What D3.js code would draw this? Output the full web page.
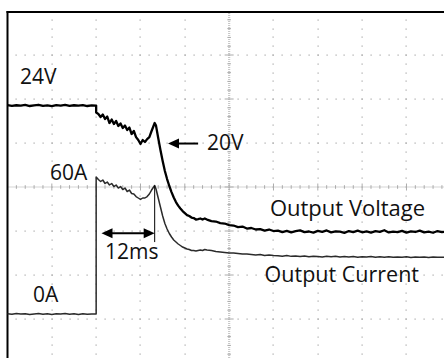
<!DOCTYPE html>
<html>
<head>
<meta charset="utf-8">
<script src="https://cdn.jsdelivr.net/npm/d3@7"></script>
<style>
  html, body { margin: 0; padding: 0; background: #fff; }
  svg { display: block; }
  text { font-family: "Open Sans", "Noto Sans", sans-serif; fill: #111; }
</style>
</head>
<body>
<svg id="scope" width="444" height="358"></svg>
<script>
// Sample times (ms), 10 ms per division
const timeMs = [0,1,2,3,4,5,6,7,8,9,10,11,12,13,14,15,16,17,18,19,20,
  20,20.5,21,21.5,22,22.5,23,23.5,24,24.5,25,25.5,26,26.5,27,27.5,28,28.5,29,29.5,30,30.5,31,31.5,32,32.5,
  33.2,33.5,34,34.5,35,35.5,36,36.5,37,37.5,38,38.5,39,39.5,40,40.5,41,41.5,42,42.5,43,43.5,44,44.5,45,
  46,47,48,49,50,51,52,53,54,55,56,57,58,59,60,
  61,62,63,64,65,66,67,68,69,70,71,72,73,74,75,76,77,78,79,80,
  81,82,83,84,85,86,87,88,89,90,91,92,93,94,95,96,97,98,99,100];

// Output voltage (V)
const outputVoltage = [24.05,23.96,24.03,23.98,24.06,23.95,24.02,24.08,23.97,24.01,23.94,24.04,23.99,24.07,23.96,24.03,23.98,24.05,23.95,24.02,24.0,
  23.26,23.11,22.79,23.05,22.58,22.84,22.16,22.53,22.05,22.37,21.84,22.11,21.63,21.89,21.42,21.68,21.0,21.32,20.68,20.37,19.95,20.37,20.16,20.47,20.68,21.32,
  22.16,21.89,20.58,19.32,18.16,17.11,16.26,15.53,14.89,14.32,13.84,13.47,13.16,12.89,12.68,12.47,12.37,12.21,12.16,12.0,12.05,12.11,12.0,12.11,12.0,
  11.84,11.79,11.63,11.58,11.42,11.37,11.21,11.26,11.05,11.11,10.95,11.0,10.84,10.95,10.79,
  10.84,10.68,10.80,10.64,10.77,10.86,10.67,10.74,10.62,10.81,10.70,10.85,10.65,10.76,10.72,10.60,10.79,10.68,10.83,10.66,
  10.75,10.63,10.78,10.71,10.87,10.64,10.73,10.68,10.81,10.62,10.76,10.69,10.84,10.65,10.72,10.61,10.79,10.67,10.74,10.70];

// Output current (A)
const outputCurrent = [0.1,-0.15,0.2,-0.05,0.15,-0.2,0.05,0.18,-0.1,0.12,-0.18,0.08,-0.05,0.2,-0.12,0.1,-0.2,0.15,-0.08,0.05,0,
  62.27,61.14,60.23,60.91,59.32,60.0,58.64,59.32,57.95,58.64,57.27,57.95,56.59,57.27,55.68,56.36,54.77,54.55,53.41,52.73,52.05,52.73,52.73,53.41,54.55,56.36,
  58.41,56.8,52.73,48.64,44.55,41.14,38.64,36.59,35.0,33.64,32.73,31.82,31.14,30.45,30.0,29.55,29.32,28.86,28.86,28.64,28.86,29.09,28.86,29.32,29.09,
  28.86,28.41,28.18,27.95,27.73,27.73,27.5,27.27,27.27,27.05,26.82,27.05,26.59,26.82,26.59,
  26.5,26.3,26.55,26.2,26.4,26.1,26.35,26.0,26.3,26.15,25.95,26.25,26.05,26.2,25.9,26.15,25.95,26.1,25.85,26.05,
  25.9,26.1,25.8,26.0,25.85,26.05,25.75,25.95,25.85,26.0,25.7,25.9,25.8,25.95,25.7,25.9,25.75,25.85,25.7,25.8];

// Screen extents in channel units (10 x 8 divisions)
const timeSpan = [0, 100];
const voltSpan = [-3.1, 33.95];
const ampSpan = [-22.27, 137.73];
const divisionsX = 10, divisionsY = 8, minorPerDiv = 5;

// Annotations, in channel units
const peakTime = 33.2, peakAmps = 58.41;
const delayMs = 12;
const delayArrowAmps = 36.7, markerEndAmps = 32.7;
const dipVolts = 20, dipArrowTip = 36.2, dipArrowTail = 43.0;

const labels = [
  { text: "24V", t: 2.82, v: 26.26, ch: "V", size: 21 },
  { text: "60A", t: 9.59, v: 60.9, ch: "A", size: 21 },
  { text: "0A", t: 5.75, v: 5.45, ch: "A", size: 21 },
  { text: "20V", t: 45.0, v: 19.32, ch: "V", size: 21 },
  { text: delayMs + "ms", t: 22.0, v: 25.0, ch: "A", size: 21 },
  { text: "Output Voltage", t: 59.2, v: 12.37, ch: "V", size: 22 },
  { text: "Output Current", t: 58.0, v: 14.55, ch: "A", size: 21.5 }
];

const svg = d3.select("#scope");
const plotLeft = 7.5, plotRight = 450.8, plotTop = 11, plotBottom = 363;

const x = d3.scaleLinear().domain(timeSpan).range([plotLeft, plotRight]);
const gx = d3.scaleLinear().domain([0, divisionsX]).range([plotLeft, plotRight]);
const gy = d3.scaleLinear().domain([0, divisionsY]).range([plotTop, plotBottom]);
const yV = d3.scaleLinear().domain(voltSpan).range([plotBottom, plotTop]);
const yA = d3.scaleLinear().domain(ampSpan).range([plotBottom, plotTop]);

// Dotted graticule
const grid = svg.append("g");
const dots = [];
d3.range(1, divisionsX).filter(d => d !== divisionsX / 2).forEach(d => {
  d3.range(1, divisionsY * minorPerDiv).forEach(k => dots.push([gx(d), gy(k / minorPerDiv)]));
});
d3.range(1, divisionsY).filter(d => d !== divisionsY / 2).forEach(d => {
  d3.range(1, divisionsX * minorPerDiv + 1).forEach(k => dots.push([gx(k / minorPerDiv), gy(d)]));
});
grid.selectAll("rect.dot").data(dots).join("rect")
  .attr("class", "dot")
  .attr("x", d => Math.round(d[0]) - 0.5).attr("y", d => Math.round(d[1]) - 0.5)
  .attr("width", 1.2).attr("height", 1.2)
  .attr("fill", "#a6a6a6");

// Centre axes with fine ruling and tick marks
const cx = gx(divisionsX / 2), cy = gy(divisionsY / 2);
grid.append("line").attr("x1", cx).attr("x2", cx).attr("y1", plotTop).attr("y2", 358)
  .attr("stroke", "#c8c8c8").attr("stroke-width", 2.2).attr("stroke-dasharray", "1,1");
grid.append("line").attr("x1", plotLeft).attr("x2", 444).attr("y1", cy).attr("y2", cy)
  .attr("stroke", "#c8c8c8").attr("stroke-width", 1.6).attr("stroke-dasharray", "1,1");
grid.selectAll("line.tx").data(d3.range(1, divisionsX * minorPerDiv)).join("line")
  .attr("class", "tx")
  .attr("x1", k => gx(k / minorPerDiv)).attr("x2", k => gx(k / minorPerDiv))
  .attr("y1", k => cy - (k % minorPerDiv === 0 ? 3.5 : 1.8))
  .attr("y2", k => cy + (k % minorPerDiv === 0 ? 3.5 : 1.8))
  .attr("stroke", "#ababab").attr("stroke-width", 1);
grid.selectAll("line.ty").data(d3.range(1, divisionsY * minorPerDiv)).join("line")
  .attr("class", "ty")
  .attr("y1", k => gy(k / minorPerDiv)).attr("y2", k => gy(k / minorPerDiv))
  .attr("x1", k => cx - (k % minorPerDiv === 0 ? 4.5 : 1.8))
  .attr("x2", k => cx + (k % minorPerDiv === 0 ? 4.5 : 1.8))
  .attr("stroke", "#ababab").attr("stroke-width", 1);

// Frame (top and left edges)
svg.append("line").attr("x1", plotLeft - 1).attr("x2", 444).attr("y1", plotTop + 1).attr("y2", plotTop + 1)
  .attr("stroke", "#000").attr("stroke-width", 2);
svg.append("line").attr("x1", plotLeft).attr("x2", plotLeft).attr("y1", plotTop).attr("y2", 358)
  .attr("stroke", "#000").attr("stroke-width", 2);

// Traces
const pts = timeMs.map((t, i) => ({ t, v: outputVoltage[i], a: outputCurrent[i] }));
svg.append("path").datum(pts)
  .attr("d", d3.line().x(d => x(d.t)).y(d => yA(d.a)))
  .attr("fill", "none").attr("stroke", "#2b2b2b").attr("stroke-width", 1.5)
  .attr("stroke-linejoin", "round");
svg.append("path").datum(pts)
  .attr("d", d3.line().x(d => x(d.t)).y(d => yV(d.v)))
  .attr("fill", "none").attr("stroke", "#000").attr("stroke-width", 2.3)
  .attr("stroke-linejoin", "round");

// Filled arrowhead with its tip at (tipX, tipY); dir = 1 points left, -1 points right
function head(g, tipX, tipY, dir) {
  const len = 11, half = 5;
  g.append("path")
    .attr("d", `M${tipX},${tipY}L${tipX + dir * len},${tipY - half}L${tipX + dir * len},${tipY + half}Z`)
    .attr("fill", "#000");
}

const ann = svg.append("g");
// 20V pointer
const dy = yV(dipVolts);
ann.append("line").attr("x1", x(dipArrowTip) + 6).attr("x2", x(dipArrowTail)).attr("y1", dy).attr("y2", dy)
  .attr("stroke", "#000").attr("stroke-width", 2);
head(ann, x(dipArrowTip), dy, 1);

// 12 ms delay marker
const ay = yA(delayArrowAmps);
const a0 = x(peakTime - delayMs), a1 = x(peakTime);
ann.append("line").attr("x1", a1).attr("x2", a1).attr("y1", yA(peakAmps)).attr("y2", yA(markerEndAmps))
  .attr("stroke", "#000").attr("stroke-width", 1);
ann.append("line").attr("x1", a0 + 6).attr("x2", a1 - 6).attr("y1", ay).attr("y2", ay)
  .attr("stroke", "#000").attr("stroke-width", 2);
head(ann, a0, ay, 1);
head(ann, a1, ay, -1);

// Labels
ann.selectAll("text").data(labels).join("text")
  .attr("x", d => x(d.t))
  .attr("y", d => d.ch === "V" ? yV(d.v) : yA(d.v))
  .attr("font-size", d => d.size)
  .text(d => d.text);
</script>
</body>
</html>
